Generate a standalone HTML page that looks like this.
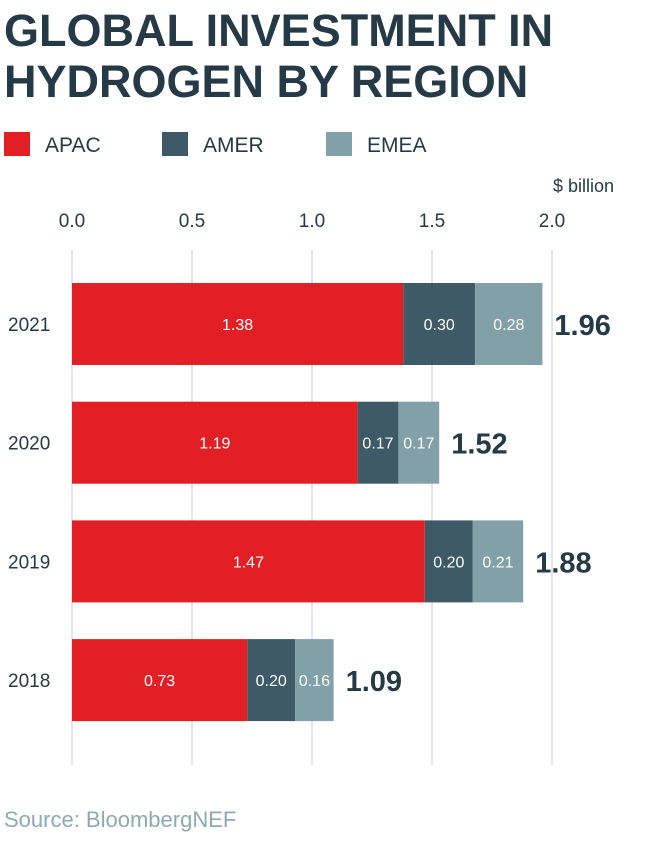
<!DOCTYPE html>
<html><head><meta charset="utf-8"><style>
body{margin:0;background:#fff;font-family:"Liberation Sans",sans-serif;}
#wrap{position:relative;width:650px;height:860px;overflow:hidden;}
</style></head><body>
<div id="wrap">
<svg id="chart" width="650" height="860"></svg>
</div>
<script>
const years=["2021","2020","2019","2018"];
const apac=[1.38,1.19,1.47,0.73];
const amer=[0.30,0.17,0.20,0.20];
const emea=[0.28,0.17,0.21,0.16];
const totals=[1.96,1.52,1.88,1.09];
const ticks=[0.0,0.5,1.0,1.5,2.0];
const seriesNames=["APAC","AMER","EMEA"];
const colors=["#e31f26","#3d5a66","#82a0a8"];

const NS="http://www.w3.org/2000/svg";
const svg=document.getElementById('chart');
function mk(t,a,txt){const e=document.createElementNS(NS,t);for(const k in a)e.setAttribute(k,a[k]);if(txt!==undefined)e.textContent=txt;svg.appendChild(e);return e;}
const x0=72,pxPer=240;
const X=v=>x0+v*pxPer;
const Y=i=>283+i*118.7;
const bh=82;
const dark="#253a46";

let t=mk('text',{x:4,y:46,'font-size':45,'font-weight':'bold',fill:dark},"GLOBAL INVESTMENT IN");


t=mk('text',{x:4,y:97,'font-size':45,'font-weight':'bold',fill:dark},"HYDROGEN BY REGION");



const legX=[4,162,326];
seriesNames.forEach((n,i)=>{
  const r=mk('rect',{x:legX[i],y:132,width:26,height:24,fill:colors[i]});
  
  
  const l=mk('text',{x:legX[i]+41,y:152,'font-size':21,fill:dark},n);
  
  
});

t=mk('text',{x:614,y:192,'font-size':18,fill:dark,'text-anchor':'end'},"$ billion");



ticks.forEach(v=>{
  const g=mk('line',{x1:X(v),x2:X(v),y1:250,y2:765,stroke:"#dfe5ea",'stroke-width':2});
  
  
  const tl=mk('text',{x:X(v),y:227,'font-size':19,fill:dark,'text-anchor':'middle'},v.toFixed(1));
  
  
});

years.forEach((yr,i)=>{
  const y=Y(i);
  const yl=mk('text',{x:8,y:y+bh/2+7,'font-size':19,fill:dark},yr);
  
  
  const vals=[apac[i],amer[i],emea[i]];
  let s=0;
  vals.forEach((v,k)=>{
    const r=mk('rect',{x:X(s),y:y,width:X(s+v)-X(s),height:bh,fill:colors[k]});
    
    
    const lb=mk('text',{x:(X(s)+X(s+v))/2,y:y+bh/2+6,'font-size':16,fill:'#fff','text-anchor':'middle'},v.toFixed(2));
    
    
    s+=v;
  });
  const tt=mk('text',{x:X(s)+12,y:y+bh/2+11,'font-size':29,'font-weight':'bold',fill:dark},totals[i].toFixed(2));
  
  
});

t=mk('text',{x:4,y:827,'font-size':22,fill:"#8fa9b3"},"Source: BloombergNEF");


</script>
</body></html>
